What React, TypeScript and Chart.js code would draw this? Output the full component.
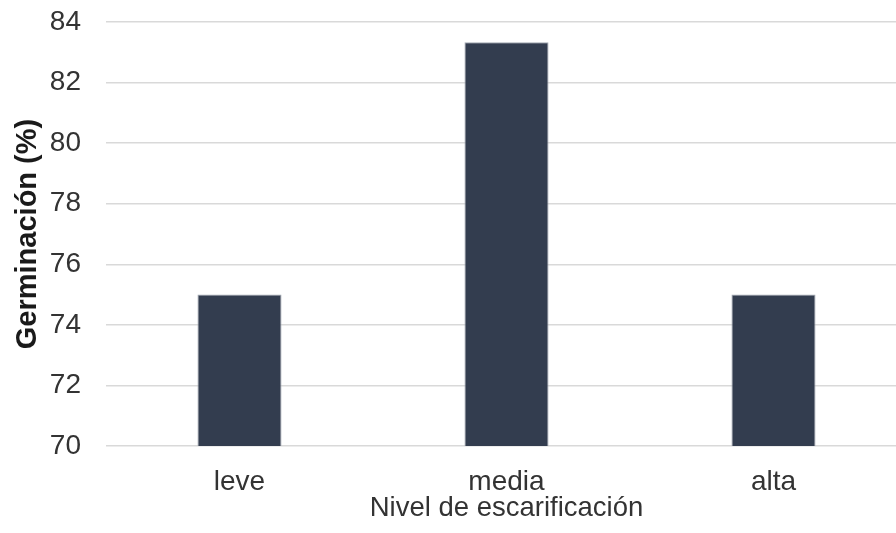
import React, { useEffect, useRef } from "react";
import { Chart, registerables } from "chart.js";

Chart.register(...registerables);

const categories = ["leve", "media", "alta"];
const germinacion = [75, 83.33, 75];
const yMin = 70;
const yMax = 84;
const yStep = 2;
const xTitle = "Nivel de escarificación";
const yTitle = "Germinación (%)";

const FONT = "'Liberation Sans', Arial, sans-serif";

export default function App() {
  const ref = useRef<HTMLCanvasElement | null>(null);

  useEffect(() => {
    if (!ref.current) return;
    const chart = new Chart(ref.current, {
      type: "bar",
      data: {
        labels: categories,
        datasets: [
          {
            data: germinacion,
            backgroundColor: "#333d4f",
            borderColor: "#a3aab4",
            borderWidth: 1,
            categoryPercentage: 1,
            barPercentage: 0.315,
          },
        ],
      },
      options: {
        animation: false,
        responsive: false,
        devicePixelRatio: 1,
        layout: { padding: { top: 0, left: 0, right: 0, bottom: 0 } },
        plugins: { legend: { display: false }, tooltip: { enabled: false } },
        scales: {
          x: {
            grid: { display: false, drawTicks: false },
            border: { display: false },
            ticks: {
              padding: 19,
              color: "#333333",
              font: { family: FONT, size: 28 },
            },
            title: {
              display: true,
              text: xTitle,
              color: "#333333",
              font: { family: FONT, size: 27.5 },
              padding: { top: 0, bottom: 8 },
            },
            afterFit: (s: any) => {
              s.height = 87;
            },
          },
          y: {
            min: yMin,
            max: yMax,
            grid: { color: "#d9d9d9", lineWidth: 1.5, drawTicks: false },
            border: { display: false },
            ticks: {
              stepSize: yStep,
              padding: 25,
              color: "#333333",
              font: { family: FONT, size: 28 },
            },
            title: {
              display: true,
              text: yTitle,
              color: "#1a1a1a",
              font: { family: FONT, size: 29, weight: "bold" },
              padding: { top: 11, bottom: 0 },
            },
            afterFit: (s: any) => {
              s.width = 106;
              s.paddingTop = 22;
              s.paddingBottom = 0;
            },
          },
        },
      },
    });
    return () => chart.destroy();
  }, []);

  return (
    <div
      style={{
        position: "fixed",
        left: 0,
        top: 0,
        width: 896,
        height: 533,
        overflow: "hidden",
        background: "#ffffff",
      }}
    >
      <canvas ref={ref} width={907} height={533} style={{ display: "block" }} />
    </div>
  );
}
